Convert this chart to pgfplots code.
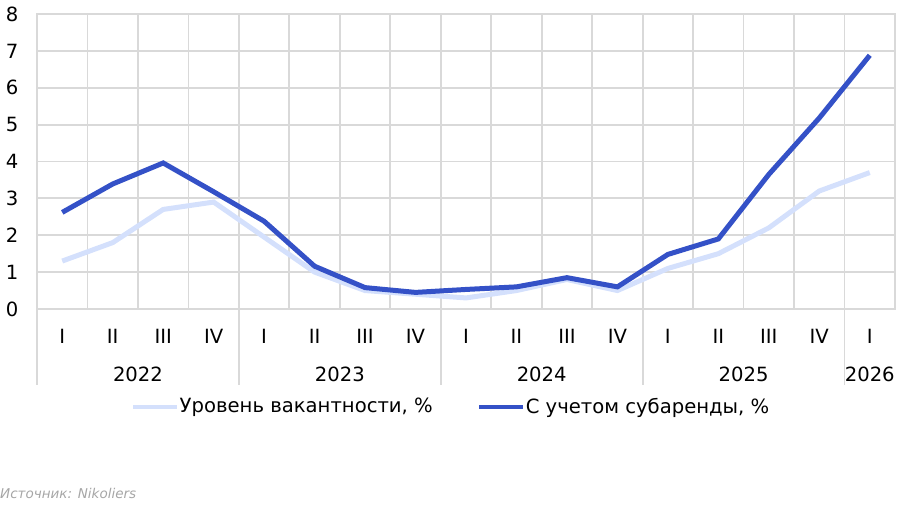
\documentclass[border=0pt]{standalone}
\usepackage{pgfplots}
\pgfplotsset{compat=1.18}
\usepackage{fontspec}
\setmainfont{DejaVu Sans}
\definecolor{lightv}{HTML}{D4E0FC}
\definecolor{darkv}{HTML}{3451C7}
\definecolor{gridc}{HTML}{D9D9D9}
\definecolor{srcc}{HTML}{A6A6A6}
\begin{document}
\fontsize{19.6}{23}\selectfont
\begin{tikzpicture}[x=1pt,y=1pt]
\useasboundingbox (0,0) rectangle (906,505);
\begin{axis}[
 at={(37pt,196pt)}, anchor=south west,
 width=858pt, height=295pt, scale only axis,
 xmin=-0.5, xmax=16.5, ymin=0, ymax=8,
 xtick={0,...,16},
 xticklabels={I,II,III,IV,I,II,III,IV,I,II,III,IV,I,II,III,IV,I},
 minor xtick={0.5,1.5,2.5,3.5,4.5,5.5,6.5,7.5,8.5,9.5,10.5,11.5,12.5,13.5,14.5,15.5},
 ytick={0,...,8},
 major tick length=0, minor tick length=0,
 ymajorgrids, xminorgrids,
 grid style={gridc, line width=1.8pt},
 minor grid style={gridc, line width=1.8pt},
 axis line style={gridc, line width=1.8pt},
 xticklabel style={anchor=center, yshift=-27pt},
 yticklabel style={anchor=center, xshift=-25pt},
 /pgf/number format/assume math mode=true,
 clip=false,
 legend style={at={(0.1096,-0.332)}, anchor=west, draw=none, fill=none, inner sep=0pt,
   legend columns=2, nodes={inner sep=0.5pt},
   /tikz/every even column/.append style={column sep=44pt}},
 legend image code/.code={\draw[#1, line width=4pt] (0pt,0pt) -- (44pt,0pt);},
]
\addplot[lightv, line width=5pt] coordinates {
(0,1.3) (1,1.8) (2,2.7) (3,2.9) (4,1.95) (5,1.0) (6,0.5) (7,0.4) (8,0.3) (9,0.5) (10,0.8) (11,0.5) (12,1.1) (13,1.5) (14,2.2) (15,3.2) (16,3.7)};
\addlegendentry{Уровень вакантности, \%}
\addplot[darkv, line width=5pt] coordinates {
(0,2.62) (1,3.39) (2,3.96) (3,3.18) (4,2.38) (5,1.16) (6,0.58) (7,0.45) (8,0.53) (9,0.6) (10,0.85) (11,0.6) (12,1.48) (13,1.9) (14,3.65) (15,5.18) (16,6.88)};
\addlegendentry{С учетом субаренды, \%}
\draw[gridc, line width=1.8pt] (axis cs:-0.5,0) -- ([yshift=-76pt]axis cs:-0.5,0);
\draw[gridc, line width=1.8pt] (axis cs:3.5,0) -- ([yshift=-76pt]axis cs:3.5,0);
\draw[gridc, line width=1.8pt] (axis cs:7.5,0) -- ([yshift=-76pt]axis cs:7.5,0);
\draw[gridc, line width=1.8pt] (axis cs:11.5,0) -- ([yshift=-76pt]axis cs:11.5,0);
\draw[gridc, line width=1.8pt] (axis cs:15.5,0) -- ([yshift=-76pt]axis cs:15.5,0);
\node at (axis cs:1.5,0) [yshift=-65pt] {2022};
\node at (axis cs:5.5,0) [yshift=-65pt] {2023};
\node at (axis cs:9.5,0) [yshift=-65pt] {2024};
\node at (axis cs:13.5,0) [yshift=-65pt] {2025};
\node at (axis cs:16,0) [yshift=-65pt] {2026};
\end{axis}
\node[anchor=base west, inner sep=0pt, text=srcc, font=\itshape\fontsize{13.5}{15}\selectfont] at (0,6) {Источник: Nikoliers};
\end{tikzpicture}
\end{document}
